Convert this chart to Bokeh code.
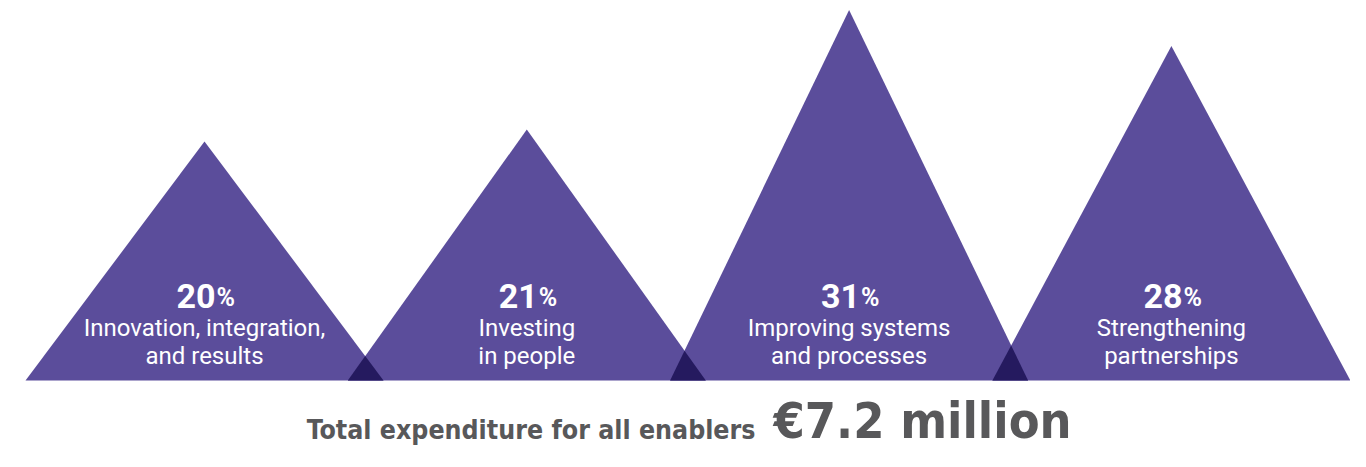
from bokeh.plotting import figure
from bokeh.models import Range1d, ColumnDataSource
from bokeh.core.properties import value
from bokeh.embed import file_html
from bokeh.resources import INLINE

# ---- data ----
shares = [20, 21, 31, 28]
pct_labels = ["20", "21", "31", "28"]
label_line1 = ["Innovation, integration,", "Investing", "Improving systems", "Strengthening"]
label_line2 = ["and results", "in people", "and processes", "partnerships"]
total_label = "Total expenditure for all enablers"
total_value = "€7.2 million"

# ---- styling / layout ----
W, H = 1350, 451
PX_PER_PCT = 11.95
BASE_PX = 380            # base line, px from top of plot
FIRST_C = 204.0
STEP = 322.3
HW = 179.0
PURPLE = "#5b4d9b"
DARK = "#251a5f"
GREY = "#58585a"
BOTTOM_FONT = "DejaVu Sans Condensed"

p = figure(width=W, height=H, output_backend="svg", toolbar_location=None,
           x_range=Range1d(0, W),
           y_range=Range1d(-(H - BASE_PX) / PX_PER_PCT, BASE_PX / PX_PER_PCT),
           min_border=0)
p.axis.visible = False
p.grid.visible = False
p.outline_line_color = None
p.background_fill_color = "white"
p.border_fill_color = "white"

centers = [FIRST_C + i * STEP for i in range(len(shares))]

xs = [[c - HW, c, c + HW] for c in centers]
ys = [[0, s, 0] for s in shares]
p.patches(xs, ys, fill_color=PURPLE, line_color=None)

# overlaps of neighbouring triangles
oxs, oys = [], []
for i in range(len(shares) - 1):
    R = centers[i] + HW
    L = centers[i + 1] - HW
    h1, h2 = shares[i], shares[i + 1]
    xi = (h1 * R + h2 * L) / (h1 + h2)
    yi = h1 * (R - xi) / HW
    oxs.append([L, xi, R])
    oys.append([0, yi, 0])
p.patches(oxs, oys, fill_color=DARK, line_color=None)

src = ColumnDataSource(dict(x=centers, y=[0] * len(shares), num=pct_labels,
                            l1=label_line1, l2=label_line2))

p.text(x="x", y="y", text="num", source=src, x_offset=11, y_offset=-85,
       text_align="right", text_baseline="middle",
       text_font=value("Roboto"), text_font_style="bold",
       text_font_size="34px", text_color="white")
p.text(x="x", y="y", text=value("%"), source=src, x_offset=12, y_offset=-83,
       text_align="left", text_baseline="middle",
       text_font=value("Roboto"), text_font_style="bold",
       text_font_size="25px", text_color="white")
p.text(x="x", y="y", text="l1", source=src, y_offset=-53,
       text_align="center", text_baseline="middle",
       text_font=value("Roboto"), text_font_size="24px", text_color="white")
p.text(x="x", y="y", text="l2", source=src, y_offset=-25,
       text_align="center", text_baseline="middle",
       text_font=value("Roboto"), text_font_size="24px", text_color="white")

p.text(x=[755], y=[0], text=[total_label], y_offset=49,
       text_align="right", text_baseline="middle",
       text_font=value(BOTTOM_FONT), text_font_style="bold",
       text_font_size="26.5px", text_color=GREY)
p.text(x=[773], y=[0], text=[total_value], y_offset=40,
       text_align="left", text_baseline="middle",
       text_font=value(BOTTOM_FONT), text_font_style="bold",
       text_font_size="50px", text_color=GREY)

open("out.html", "w").write(file_html(p, INLINE))
